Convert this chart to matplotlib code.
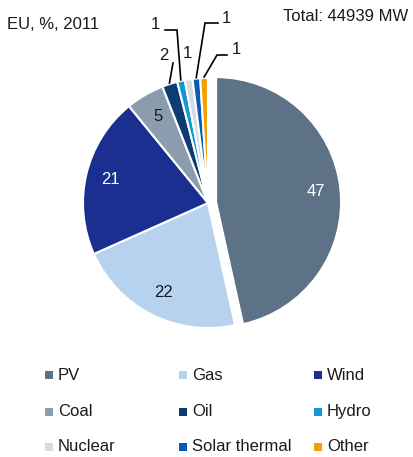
import numpy as np
import matplotlib.pyplot as plt

plt.rcParams['font.family'] = ['Liberation Sans', 'DejaVu Sans']

sources = ['PV', 'Gas', 'Wind', 'Coal', 'Oil', 'Hydro', 'Nuclear', 'Solar thermal', 'Other']
shares = [47, 22, 21, 5, 2, 1, 1, 1, 1]
colors = ['#5d7286', '#b7d2ee', '#1b2f91', '#8a9cae', '#0d3b73', '#1496d4', '#d3dbe3', '#0d5bb0', '#f5a000']
total_mw = 44939

W, H = 414, 457
fig = plt.figure(figsize=(W / 100, H / 100), dpi=100)
ax = fig.add_axes([0, 0, 1, 1])

cx, cy, r = 208, H - 203, 125
# pie's explode is in data units here, so scale it by the radius
explode = [0.065 * r] + [0] * (len(shares) - 1)
wedges, _ = ax.pie(shares, colors=colors, startangle=90, counterclock=False,
                   center=(cx, cy), radius=r, explode=explode,
                   wedgeprops=dict(edgecolor='white', linewidth=1.5), frame=True)
ax.set_xlim(0, W)
ax.set_ylim(0, H)
ax.set_aspect('equal')
ax.axis('off')

# values inside the big slices
inside_color = {0: 'white', 1: '#1a1a1a', 2: 'white', 3: '#1a1a1a'}
for i, c in inside_color.items():
    w = wedges[i]
    ang = np.deg2rad((w.theta1 + w.theta2) / 2)
    x0, y0 = w.center
    ax.text(x0 + 0.8 * r * np.cos(ang), y0 + 0.8 * r * np.sin(ang), str(shares[i]),
            ha='center', va='center', fontsize=12, color=c)

# small slices: text position and elbow points (px from top-left)
callouts = {
    4: ((164, 55), [(173, 63)]),
    5: ((155, 24), [(165, 30), (177, 30)]),
    6: ((187, 53), []),
    7: ((226, 18), [(218, 23), (205, 23)]),
    8: ((236, 49), [(227, 55), (217, 55)]),
}
for i, (txt, elbow) in callouts.items():
    w = wedges[i]
    ang = np.deg2rad((w.theta1 + w.theta2) / 2)
    x0, y0 = w.center
    sx, sy = x0 + (r + 1) * np.cos(ang), y0 + (r + 1) * np.sin(ang)
    if elbow:
        pts = [(px, H - py) for px, py in elbow] + [(sx, sy)]
        ax.plot([p[0] for p in pts], [p[1] for p in pts], color='black', lw=1.2,
                solid_joinstyle='miter')
    ax.text(txt[0], H - txt[1], str(shares[i]), ha='center', va='center',
            fontsize=12, color='#1a1a1a')

ax.text(7, H - 24, 'EU, %, 2011', ha='left', va='center', fontsize=12, color='#1a1a1a')
ax.text(408, H - 16, f'Total: {total_mw} MW', ha='right', va='center',
        fontsize=12, color='#1a1a1a')

# legend grid, row by row
col_x = [49, 183, 318]
row_y = [375, 412, 447]
for k, (name, col) in enumerate(zip(sources, colors)):
    x = col_x[k % 3]
    y = H - row_y[k // 3]
    ax.scatter([x], [y], marker='s', s=28, color=col, linewidths=0)
    ax.text(x + 9, y, name, ha='left', va='center', fontsize=12, color='#1a1a1a')

fig.savefig('out.png', dpi=100)
